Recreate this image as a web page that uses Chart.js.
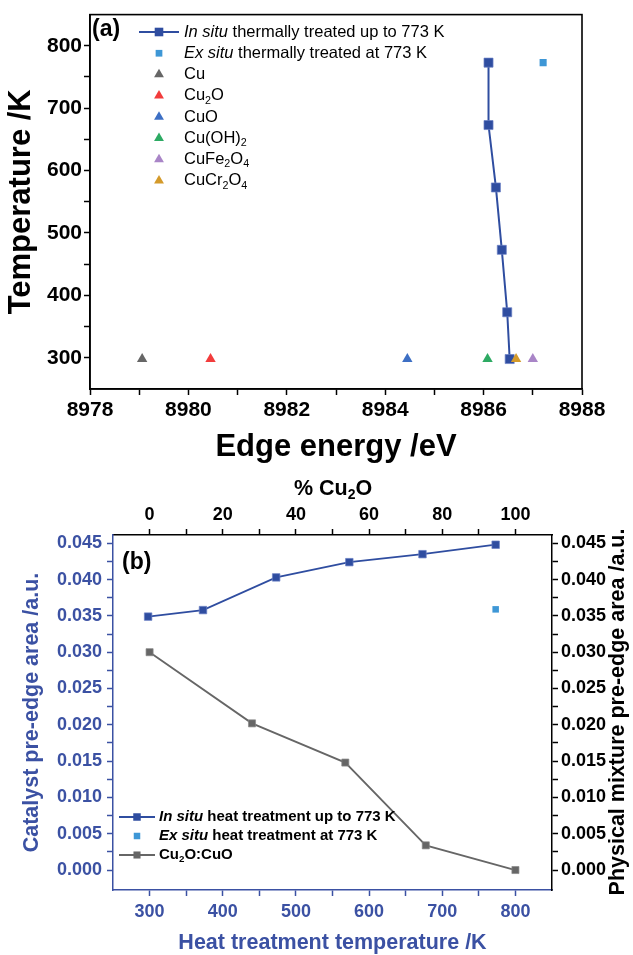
<!DOCTYPE html>
<html>
<head>
<meta charset="utf-8">
<script src="https://cdn.jsdelivr.net/npm/chart.js"></script>
<style>
  html, body { margin: 0; padding: 0; background: #fff; }
  #wrap { position: relative; width: 633px; height: 955px; overflow: hidden; }
  canvas { position: absolute; left: 0; }
  #ca { top: 0; }
  #cb { top: 460px; }
</style>
</head>
<body>
<div id="wrap">
  <canvas id="ca" width="633" height="470"></canvas>
  <canvas id="cb" width="633" height="495"></canvas>
</div>
<script>
// ---- (a) edge energy vs temperature ----
const inSituEnergy = [8986.10, 8986.10, 8986.25, 8986.37, 8986.48, 8986.53];
const inSituTemp = [773, 673, 573, 473, 373, 298];
const exSituEnergy = [8987.21];
const exSituTemp = [773];
const refNames = ['Cu', 'Cu_{2}O', 'CuO', 'Cu(OH)_{2}', 'CuFe_{2}O_{4}', 'CuCr_{2}O_{4}'];
const refEnergy = [8979.06, 8980.45, 8984.45, 8986.08, 8987.00, 8986.66];
const refTemp = [298, 298, 298, 298, 298, 298];
const energyMajor = [8978, 8980, 8982, 8984, 8986, 8988];
const energyMinor = [8979, 8981, 8983, 8985, 8987];
const tempMajor = [300, 400, 500, 600, 700, 800];
const tempMinor = [350, 450, 550, 650, 750];

// ---- (b) pre-edge areas ----
const heatTemp = [298, 373, 473, 573, 673, 773];
const inSituArea = [0.0349, 0.0358, 0.0403, 0.0424, 0.0435, 0.0448];
const exSituHeatTemp = [773];
const exSituArea = [0.0359];
const mixPct = [0, 28, 53.5, 75.5, 100];
const mixArea = [0.0300, 0.0202, 0.0148, 0.0034, 0.0000];
const heatMajor = [300, 400, 500, 600, 700, 800];
const heatMinor = [350, 450, 550, 650, 750];
const pctMajor = [0, 20, 40, 60, 80, 100];
const pctMinor = [10, 30, 50, 70, 90];
const areaMajor = [0, 0.005, 0.010, 0.015, 0.020, 0.025, 0.030, 0.035, 0.040, 0.045];
const areaMinor = [0.0025, 0.0075, 0.0125, 0.0175, 0.0225, 0.0275, 0.0325, 0.0375, 0.0425];

// styles
const FONT = '"Liberation Sans", Arial, Helvetica, sans-serif';
const BLUE = '#2f4da0', LBLUE = '#3e97d6', GRAY = '#666666', AXBLUE = '#3b51a3';
const refColors = ['#666666', '#f23c3c', '#3d6fc4', '#2daa63', '#a985c7', '#d49a2a'];

Chart.defaults.font.family = FONT;
Chart.defaults.color = '#000';

function ticksFrom(major, minor) {
    return major.concat(minor).sort((a, b) => a - b).map(v => ({ value: v }));
}
function isMajor(list, v) { return list.some(m => Math.abs(m - v) < 1e-9); }

// text with *italic* and _{sub} parts
function richText(ctx, str, x, y, size, weight, align) {
    const parts = str.split(/(\*[^*]+\*|_\{[^}]+\})/).filter(Boolean).map(p => {
        if (p[0] === '*') return { t: p.slice(1, -1), it: true };
        if (p.startsWith('_{')) return { t: p.slice(2, -1), sub: true };
        return { t: p };
    });
    const fontOf = p => `${p.it ? 'italic ' : ''}${weight} ${p.sub ? size * 0.65 : size}px ${FONT}`;
    let w = 0;
    parts.forEach(p => { ctx.font = fontOf(p); p.w = ctx.measureText(p.t).width; w += p.w; });
    let cx = align === 'center' ? x - w / 2 : x;
    ctx.textAlign = 'left';
    ctx.textBaseline = 'middle';
    parts.forEach(p => {
        ctx.font = fontOf(p);
        ctx.fillText(p.t, cx, p.sub ? y + size * 0.3 : y);
        cx += p.w;
    });
}

function legendMark(ctx, ds, x, y, lineHalf, scale) {
    ctx.save();
    if (ds.showLine) {
        ctx.strokeStyle = ds.borderColor;
        ctx.lineWidth = ds.borderWidth;
        ctx.beginPath(); ctx.moveTo(x - lineHalf, y); ctx.lineTo(x + lineHalf, y); ctx.stroke();
    }
    ctx.fillStyle = ds.backgroundColor;
    Chart.helpers.drawPoint(ctx, {
        pointStyle: ds.pointStyle, radius: ds.pointRadius * scale, rotation: 0, borderWidth: 0
    }, x, y);
    ctx.restore();
}

const panelA = {
    id: 'panelA',
    afterDraw(chart) {
        const { ctx, chartArea: a } = chart;
        ctx.save();
        ctx.strokeStyle = '#000';
        ctx.lineWidth = 1.6;
        ctx.strokeRect(a.left, a.top, a.right - a.left, a.bottom - a.top);
        ctx.fillStyle = '#000';
        richText(ctx, '(a)', 92, 30, 23, 'bold', 'left');
        chart.data.datasets.forEach((ds, i) => {
            const y = 32 + i * 21.25;
            legendMark(ctx, ds, 159, y, 20, 0.95);
            ctx.fillStyle = '#000';
            richText(ctx, ds.label, 184, y, 16.5, 'normal', 'left');
        });
        ctx.restore();
    }
};

const panelB = {
    id: 'panelB',
    afterDraw(chart) {
        const { ctx } = chart;
        ctx.save();
        ctx.fillStyle = '#000';
        richText(ctx, '(b)', 122, 103, 23, 'bold', 'left');
        richText(ctx, '% Cu_{2}O', 333, 29, 21.5, 'bold', 'center');
        // right axis title, reads bottom to top
        ctx.translate(618, 252);
        ctx.rotate(-Math.PI / 2);
        richText(ctx, 'Physical mixture pre-edge area /a.u.', 0, 0, 21.5, 'bold', 'center');
        ctx.restore();
        ctx.save();
        chart.data.datasets.forEach((ds, i) => {
            const y = 357 + i * 19;
            legendMark(ctx, ds, 137, y, 18, 1);
            ctx.fillStyle = '#000';
            richText(ctx, ds.label, 159, y, 15, 'bold', 'left');
        });
        ctx.restore();
    }
};

function tickFont(size) { return { size, weight: 'bold', family: FONT }; }

// ---- chart (a) ----
const refSets = refNames.map((name, i) => ({
    label: name,
    data: [{ x: refEnergy[i], y: refTemp[i] }],
    pointStyle: 'triangle',
    pointRadius: 6,
    backgroundColor: refColors[i],
    borderColor: refColors[i],
    pointBorderWidth: 0,
    showLine: false,
    order: 0
}));

new Chart(document.getElementById('ca'), {
    type: 'scatter',
    data: {
        datasets: [
            {
                label: '*In situ* thermally treated up to 773 K',
                data: inSituEnergy.map((x, i) => ({ x, y: inSituTemp[i] })),
                showLine: true,
                borderColor: BLUE, backgroundColor: BLUE, borderWidth: 2,
                pointStyle: 'rect', pointRadius: 6.4,
                pointBorderColor: '#6a80c4', pointBorderWidth: 0.7,
                order: 1
            },
            {
                label: '*Ex situ* thermally treated at 773 K',
                data: exSituEnergy.map((x, i) => ({ x, y: exSituTemp[i] })),
                showLine: false,
                borderColor: LBLUE, backgroundColor: LBLUE,
                pointStyle: 'rect', pointRadius: 5, pointBorderWidth: 0,
                order: 1
            },
            ...refSets
        ]
    },
    options: {
        responsive: false,
        animation: false,
        layout: { padding: { top: 12, right: 51, left: 0, bottom: 0 } },
        plugins: { legend: { display: false }, tooltip: { enabled: false } },
        scales: {
            x: {
                type: 'linear', position: 'bottom', min: 8978, max: 8988,
                afterBuildTicks: s => { s.ticks = ticksFrom(energyMajor, energyMinor); },
                afterFit: s => { s.height = 81; },
                ticks: {
                    font: tickFont(21), color: '#000', padding: 3, autoSkip: false, maxRotation: 0,
                    callback: v => isMajor(energyMajor, v) ? String(v) : ''
                },
                grid: { drawOnChartArea: false, tickLength: 6, tickColor: '#000', tickWidth: 1.5 },
                border: { color: '#000', width: 1.6 },
                title: {
                    display: true, text: 'Edge energy /eV', color: '#000',
                    font: { size: 31, weight: 'bold', family: FONT, lineHeight: 1 },
                    padding: { top: 0, bottom: 7 }
                }
            },
            y: {
                type: 'linear', position: 'left', min: 250, max: 850,
                afterBuildTicks: s => { s.ticks = ticksFrom(tempMajor, tempMinor); },
                afterFit: s => { s.width = 90; },
                ticks: {
                    font: tickFont(21), color: '#000', padding: 2, autoSkip: false,
                    callback: v => isMajor(tempMajor, v) ? String(v) : ''
                },
                grid: { drawOnChartArea: false, tickLength: 6, tickColor: '#000', tickWidth: 1.5 },
                border: { color: '#000', width: 1.6 },
                title: {
                    display: true, text: 'Temperature /K', color: '#000',
                    font: { size: 31, weight: 'bold', family: FONT, lineHeight: 1 },
                    padding: { top: 6, bottom: 0 }
                }
            }
        }
    },
    plugins: [panelA]
});

// ---- chart (b) ----
new Chart(document.getElementById('cb'), {
    type: 'scatter',
    data: {
        datasets: [
            {
                label: '*In situ* heat treatment up to 773 K',
                data: heatTemp.map((x, i) => ({ x, y: inSituArea[i] })),
                showLine: true,
                borderColor: BLUE, backgroundColor: BLUE, borderWidth: 1.8,
                pointStyle: 'rect', pointRadius: 5.3,
                pointBorderColor: '#6a80c4', pointBorderWidth: 0.7,
                xAxisID: 'x', yAxisID: 'y'
            },
            {
                label: '*Ex situ* heat treatment at 773 K',
                data: exSituHeatTemp.map((x, i) => ({ x, y: exSituArea[i] })),
                showLine: false,
                borderColor: LBLUE, backgroundColor: LBLUE,
                pointStyle: 'rect', pointRadius: 4.6, pointBorderWidth: 0,
                xAxisID: 'x', yAxisID: 'y'
            },
            {
                label: 'Cu_{2}O:CuO',
                data: mixPct.map((x, i) => ({ x, y: mixArea[i] })),
                showLine: true,
                borderColor: GRAY, backgroundColor: GRAY, borderWidth: 1.8,
                pointStyle: 'rect', pointRadius: 5,
                pointBorderColor: '#888888', pointBorderWidth: 0.7,
                xAxisID: 'x2', yAxisID: 'y2'
            }
        ]
    },
    options: {
        responsive: false,
        animation: false,
        layout: { padding: 0 },
        plugins: { legend: { display: false }, tooltip: { enabled: false } },
        scales: {
            x: {
                type: 'linear', position: 'bottom', min: 250, max: 850,
                afterBuildTicks: s => { s.ticks = ticksFrom(heatMajor, heatMinor); },
                afterFit: s => { s.height = 65; },
                ticks: {
                    font: tickFont(18), color: AXBLUE, padding: 5, autoSkip: false, maxRotation: 0,
                    callback: v => isMajor(heatMajor, v) ? String(v) : ''
                },
                grid: { drawOnChartArea: false, tickLength: 6, tickColor: AXBLUE, tickWidth: 1.5 },
                border: { color: AXBLUE, width: 1.5 },
                title: {
                    display: true, text: 'Heat treatment temperature /K', color: AXBLUE,
                    font: { size: 21.5, weight: 'bold', family: FONT, lineHeight: 1 },
                    padding: { top: 0, bottom: 1 }
                }
            },
            x2: {
                type: 'linear', position: 'top', min: -10, max: 110,
                afterBuildTicks: s => { s.ticks = ticksFrom(pctMajor, pctMinor); },
                afterFit: s => { s.height = 75; },
                ticks: {
                    font: tickFont(18), color: '#000', padding: 3, autoSkip: false, maxRotation: 0,
                    callback: v => isMajor(pctMajor, v) ? String(v) : ''
                },
                grid: { drawOnChartArea: false, tickLength: 6, tickColor: '#000', tickWidth: 1.5 },
                border: { color: '#000', width: 1.5 }
            },
            y: {
                type: 'linear', position: 'left', min: -0.00275, max: 0.04614,
                afterBuildTicks: s => { s.ticks = ticksFrom(areaMajor, areaMinor); },
                afterFit: s => { s.width = 113; },
                ticks: {
                    font: tickFont(18), color: AXBLUE, padding: 5, autoSkip: false,
                    callback: v => isMajor(areaMajor, v) ? v.toFixed(3) : ''
                },
                grid: { drawOnChartArea: false, tickLength: 6, tickColor: AXBLUE, tickWidth: 1.5 },
                border: { color: AXBLUE, width: 1.5 },
                title: {
                    display: true, text: 'Catalyst pre-edge area /a.u.', color: AXBLUE,
                    font: { size: 21.5, weight: 'bold', family: FONT, lineHeight: 1 },
                    padding: { top: 21, bottom: 0 }
                }
            },
            y2: {
                type: 'linear', position: 'right', min: -0.00275, max: 0.04614,
                afterBuildTicks: s => { s.ticks = ticksFrom(areaMajor, areaMinor); },
                afterFit: s => { s.width = 81; },
                ticks: {
                    font: tickFont(18), color: '#000', padding: 3, autoSkip: false,
                    callback: v => isMajor(areaMajor, v) ? v.toFixed(3) : ''
                },
                grid: { drawOnChartArea: false, tickLength: 6, tickColor: '#000', tickWidth: 1.5 },
                border: { color: '#000', width: 1.5 }
            }
        }
    },
    plugins: [panelB]
});
</script>
</body>
</html>
